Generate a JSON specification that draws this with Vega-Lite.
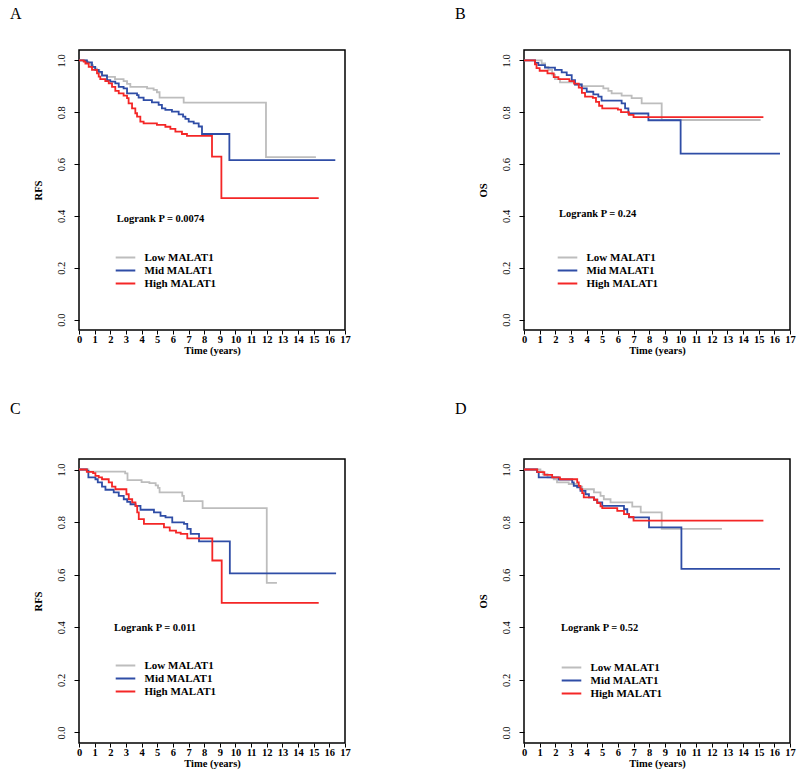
{
  "$schema": "https://vega.github.io/schema/vega-lite/v6.json",
  "background": "white",
  "padding": {"left": 9, "top": 4, "right": 5, "bottom": 5},
  "datasets": {
    "km": [
      {"panel":"A","group":"Low MALAT1","time":0,"surv":1},
      {"panel":"A","group":"Low MALAT1","time":0.45,"surv":0.995},
      {"panel":"A","group":"Low MALAT1","time":0.6,"surv":0.99},
      {"panel":"A","group":"Low MALAT1","time":0.75,"surv":0.982},
      {"panel":"A","group":"Low MALAT1","time":0.9,"surv":0.975},
      {"panel":"A","group":"Low MALAT1","time":1.0,"surv":0.968},
      {"panel":"A","group":"Low MALAT1","time":1.15,"surv":0.962},
      {"panel":"A","group":"Low MALAT1","time":1.3,"surv":0.952},
      {"panel":"A","group":"Low MALAT1","time":1.47,"surv":0.943},
      {"panel":"A","group":"Low MALAT1","time":1.79,"surv":0.936},
      {"panel":"A","group":"Low MALAT1","time":2.3,"surv":0.928},
      {"panel":"A","group":"Low MALAT1","time":2.85,"surv":0.92},
      {"panel":"A","group":"Low MALAT1","time":3.07,"surv":0.909},
      {"panel":"A","group":"Low MALAT1","time":3.28,"surv":0.898},
      {"panel":"A","group":"Low MALAT1","time":4.35,"surv":0.892},
      {"panel":"A","group":"Low MALAT1","time":4.77,"surv":0.886},
      {"panel":"A","group":"Low MALAT1","time":4.98,"surv":0.877},
      {"panel":"A","group":"Low MALAT1","time":5.15,"surv":0.856},
      {"panel":"A","group":"Low MALAT1","time":6.69,"surv":0.837},
      {"panel":"A","group":"Low MALAT1","time":11.95,"surv":0.627},
      {"panel":"A","group":"Low MALAT1","time":15.14,"surv":0.627},
      {"panel":"A","group":"Mid MALAT1","time":0,"surv":1},
      {"panel":"A","group":"Mid MALAT1","time":0.51,"surv":0.992},
      {"panel":"A","group":"Mid MALAT1","time":0.83,"surv":0.975},
      {"panel":"A","group":"Mid MALAT1","time":1.04,"surv":0.963},
      {"panel":"A","group":"Mid MALAT1","time":1.26,"surv":0.956},
      {"panel":"A","group":"Mid MALAT1","time":1.47,"surv":0.941},
      {"panel":"A","group":"Mid MALAT1","time":1.79,"surv":0.924},
      {"panel":"A","group":"Mid MALAT1","time":2.0,"surv":0.918},
      {"panel":"A","group":"Mid MALAT1","time":2.32,"surv":0.911},
      {"panel":"A","group":"Mid MALAT1","time":2.54,"surv":0.898},
      {"panel":"A","group":"Mid MALAT1","time":2.85,"surv":0.892},
      {"panel":"A","group":"Mid MALAT1","time":3.07,"surv":0.873},
      {"panel":"A","group":"Mid MALAT1","time":3.71,"surv":0.866},
      {"panel":"A","group":"Mid MALAT1","time":3.81,"surv":0.856},
      {"panel":"A","group":"Mid MALAT1","time":4.13,"surv":0.847},
      {"panel":"A","group":"Mid MALAT1","time":4.66,"surv":0.838},
      {"panel":"A","group":"Mid MALAT1","time":5.09,"surv":0.828},
      {"panel":"A","group":"Mid MALAT1","time":5.3,"surv":0.815},
      {"panel":"A","group":"Mid MALAT1","time":5.52,"surv":0.809},
      {"panel":"A","group":"Mid MALAT1","time":5.94,"surv":0.802},
      {"panel":"A","group":"Mid MALAT1","time":6.37,"surv":0.792},
      {"panel":"A","group":"Mid MALAT1","time":6.65,"surv":0.783},
      {"panel":"A","group":"Mid MALAT1","time":6.8,"surv":0.774},
      {"panel":"A","group":"Mid MALAT1","time":7.01,"surv":0.764},
      {"panel":"A","group":"Mid MALAT1","time":7.33,"surv":0.757},
      {"panel":"A","group":"Mid MALAT1","time":7.65,"surv":0.745},
      {"panel":"A","group":"Mid MALAT1","time":7.86,"surv":0.716},
      {"panel":"A","group":"Mid MALAT1","time":9.61,"surv":0.615},
      {"panel":"A","group":"Mid MALAT1","time":16.38,"surv":0.615},
      {"panel":"A","group":"High MALAT1","time":0,"surv":1},
      {"panel":"A","group":"High MALAT1","time":0.3,"surv":0.995},
      {"panel":"A","group":"High MALAT1","time":0.41,"surv":0.988},
      {"panel":"A","group":"High MALAT1","time":0.62,"surv":0.975},
      {"panel":"A","group":"High MALAT1","time":0.83,"surv":0.963},
      {"panel":"A","group":"High MALAT1","time":1.15,"surv":0.95},
      {"panel":"A","group":"High MALAT1","time":1.26,"surv":0.937},
      {"panel":"A","group":"High MALAT1","time":1.36,"surv":0.928},
      {"panel":"A","group":"High MALAT1","time":1.68,"surv":0.92},
      {"panel":"A","group":"High MALAT1","time":1.9,"surv":0.911},
      {"panel":"A","group":"High MALAT1","time":2.11,"surv":0.898},
      {"panel":"A","group":"High MALAT1","time":2.32,"surv":0.882},
      {"panel":"A","group":"High MALAT1","time":2.54,"surv":0.873},
      {"panel":"A","group":"High MALAT1","time":2.85,"surv":0.864},
      {"panel":"A","group":"High MALAT1","time":3.07,"surv":0.854},
      {"panel":"A","group":"High MALAT1","time":3.17,"surv":0.834},
      {"panel":"A","group":"High MALAT1","time":3.39,"surv":0.815},
      {"panel":"A","group":"High MALAT1","time":3.6,"surv":0.796},
      {"panel":"A","group":"High MALAT1","time":3.71,"surv":0.783},
      {"panel":"A","group":"High MALAT1","time":3.92,"surv":0.764},
      {"panel":"A","group":"High MALAT1","time":4.13,"surv":0.757},
      {"panel":"A","group":"High MALAT1","time":4.98,"surv":0.751},
      {"panel":"A","group":"High MALAT1","time":5.52,"surv":0.744},
      {"panel":"A","group":"High MALAT1","time":5.84,"surv":0.736},
      {"panel":"A","group":"High MALAT1","time":6.16,"surv":0.725},
      {"panel":"A","group":"High MALAT1","time":6.58,"surv":0.716},
      {"panel":"A","group":"High MALAT1","time":6.9,"surv":0.709},
      {"panel":"A","group":"High MALAT1","time":8.5,"surv":0.629},
      {"panel":"A","group":"High MALAT1","time":9.1,"surv":0.469},
      {"panel":"A","group":"High MALAT1","time":15.32,"surv":0.469},

      {"panel":"B","group":"Low MALAT1","time":0,"surv":1},
      {"panel":"B","group":"Low MALAT1","time":1.13,"surv":0.988},
      {"panel":"B","group":"Low MALAT1","time":1.35,"surv":0.975},
      {"panel":"B","group":"Low MALAT1","time":1.56,"surv":0.963},
      {"panel":"B","group":"Low MALAT1","time":1.8,"surv":0.945},
      {"panel":"B","group":"Low MALAT1","time":1.98,"surv":0.928},
      {"panel":"B","group":"Low MALAT1","time":2.3,"surv":0.915},
      {"panel":"B","group":"Low MALAT1","time":3.26,"surv":0.907},
      {"panel":"B","group":"Low MALAT1","time":3.69,"surv":0.901},
      {"panel":"B","group":"Low MALAT1","time":5.07,"surv":0.892},
      {"panel":"B","group":"Low MALAT1","time":5.39,"surv":0.882},
      {"panel":"B","group":"Low MALAT1","time":5.6,"surv":0.873},
      {"panel":"B","group":"Low MALAT1","time":6.24,"surv":0.864},
      {"panel":"B","group":"Low MALAT1","time":6.88,"surv":0.854},
      {"panel":"B","group":"Low MALAT1","time":7.52,"surv":0.834},
      {"panel":"B","group":"Low MALAT1","time":8.8,"surv":0.77},
      {"panel":"B","group":"Low MALAT1","time":15.12,"surv":0.77},
      {"panel":"B","group":"Mid MALAT1","time":0,"surv":1},
      {"panel":"B","group":"Mid MALAT1","time":0.71,"surv":0.99},
      {"panel":"B","group":"Mid MALAT1","time":0.92,"surv":0.982},
      {"panel":"B","group":"Mid MALAT1","time":1.34,"surv":0.972},
      {"panel":"B","group":"Mid MALAT1","time":1.98,"surv":0.963},
      {"panel":"B","group":"Mid MALAT1","time":2.41,"surv":0.954},
      {"panel":"B","group":"Mid MALAT1","time":2.73,"surv":0.943},
      {"panel":"B","group":"Mid MALAT1","time":3.05,"surv":0.924},
      {"panel":"B","group":"Mid MALAT1","time":3.26,"surv":0.907},
      {"panel":"B","group":"Mid MALAT1","time":3.69,"surv":0.892},
      {"panel":"B","group":"Mid MALAT1","time":4.01,"surv":0.879},
      {"panel":"B","group":"Mid MALAT1","time":4.43,"surv":0.869},
      {"panel":"B","group":"Mid MALAT1","time":4.75,"surv":0.86},
      {"panel":"B","group":"Mid MALAT1","time":4.96,"surv":0.845},
      {"panel":"B","group":"Mid MALAT1","time":6.24,"surv":0.834},
      {"panel":"B","group":"Mid MALAT1","time":6.46,"surv":0.815},
      {"panel":"B","group":"Mid MALAT1","time":6.67,"surv":0.795},
      {"panel":"B","group":"Mid MALAT1","time":7.95,"surv":0.769},
      {"panel":"B","group":"Mid MALAT1","time":10.01,"surv":0.64},
      {"panel":"B","group":"Mid MALAT1","time":16.36,"surv":0.64},
      {"panel":"B","group":"High MALAT1","time":0,"surv":1},
      {"panel":"B","group":"High MALAT1","time":0.7,"surv":0.985},
      {"panel":"B","group":"High MALAT1","time":0.8,"surv":0.97},
      {"panel":"B","group":"High MALAT1","time":1.0,"surv":0.96},
      {"panel":"B","group":"High MALAT1","time":1.5,"surv":0.95},
      {"panel":"B","group":"High MALAT1","time":1.9,"surv":0.935},
      {"panel":"B","group":"High MALAT1","time":2.2,"surv":0.928},
      {"panel":"B","group":"High MALAT1","time":2.9,"surv":0.92},
      {"panel":"B","group":"High MALAT1","time":3.2,"surv":0.91},
      {"panel":"B","group":"High MALAT1","time":3.5,"surv":0.895},
      {"panel":"B","group":"High MALAT1","time":3.7,"surv":0.875},
      {"panel":"B","group":"High MALAT1","time":3.9,"surv":0.86},
      {"panel":"B","group":"High MALAT1","time":4.4,"surv":0.855},
      {"panel":"B","group":"High MALAT1","time":4.6,"surv":0.84},
      {"panel":"B","group":"High MALAT1","time":4.8,"surv":0.825},
      {"panel":"B","group":"High MALAT1","time":5.0,"surv":0.815},
      {"panel":"B","group":"High MALAT1","time":6.0,"surv":0.81},
      {"panel":"B","group":"High MALAT1","time":6.2,"surv":0.8},
      {"panel":"B","group":"High MALAT1","time":6.7,"surv":0.79},
      {"panel":"B","group":"High MALAT1","time":7.0,"surv":0.781},
      {"panel":"B","group":"High MALAT1","time":15.3,"surv":0.781},

      {"panel":"C","group":"Low MALAT1","time":0,"surv":1},
      {"panel":"C","group":"Low MALAT1","time":0.6,"surv":0.992},
      {"panel":"C","group":"Low MALAT1","time":2.95,"surv":0.985},
      {"panel":"C","group":"Low MALAT1","time":3.1,"surv":0.96},
      {"panel":"C","group":"Low MALAT1","time":4.0,"surv":0.952},
      {"panel":"C","group":"Low MALAT1","time":4.5,"surv":0.948},
      {"panel":"C","group":"Low MALAT1","time":4.9,"surv":0.94},
      {"panel":"C","group":"Low MALAT1","time":5.05,"surv":0.93},
      {"panel":"C","group":"Low MALAT1","time":5.15,"surv":0.913},
      {"panel":"C","group":"Low MALAT1","time":6.6,"surv":0.9},
      {"panel":"C","group":"Low MALAT1","time":6.7,"surv":0.88},
      {"panel":"C","group":"Low MALAT1","time":7.9,"surv":0.853},
      {"panel":"C","group":"Low MALAT1","time":12.0,"surv":0.569},
      {"panel":"C","group":"Low MALAT1","time":12.65,"surv":0.569},
      {"panel":"C","group":"Mid MALAT1","time":0,"surv":1},
      {"panel":"C","group":"Mid MALAT1","time":0.5,"surv":0.995},
      {"panel":"C","group":"Mid MALAT1","time":0.6,"surv":0.97},
      {"panel":"C","group":"Mid MALAT1","time":1.05,"surv":0.963},
      {"panel":"C","group":"Mid MALAT1","time":1.2,"surv":0.951},
      {"panel":"C","group":"Mid MALAT1","time":1.47,"surv":0.935},
      {"panel":"C","group":"Mid MALAT1","time":1.69,"surv":0.923},
      {"panel":"C","group":"Mid MALAT1","time":2.22,"surv":0.913},
      {"panel":"C","group":"Mid MALAT1","time":2.54,"surv":0.9},
      {"panel":"C","group":"Mid MALAT1","time":2.86,"surv":0.887},
      {"panel":"C","group":"Mid MALAT1","time":3.08,"surv":0.877},
      {"panel":"C","group":"Mid MALAT1","time":3.29,"surv":0.868},
      {"panel":"C","group":"Mid MALAT1","time":3.61,"surv":0.862},
      {"panel":"C","group":"Mid MALAT1","time":3.93,"surv":0.847},
      {"panel":"C","group":"Mid MALAT1","time":4.79,"surv":0.837},
      {"panel":"C","group":"Mid MALAT1","time":5.21,"surv":0.824},
      {"panel":"C","group":"Mid MALAT1","time":5.53,"surv":0.818},
      {"panel":"C","group":"Mid MALAT1","time":5.96,"surv":0.799},
      {"panel":"C","group":"Mid MALAT1","time":6.71,"surv":0.793},
      {"panel":"C","group":"Mid MALAT1","time":6.92,"surv":0.774},
      {"panel":"C","group":"Mid MALAT1","time":7.14,"surv":0.755},
      {"panel":"C","group":"Mid MALAT1","time":7.67,"surv":0.727},
      {"panel":"C","group":"Mid MALAT1","time":9.64,"surv":0.605},
      {"panel":"C","group":"Mid MALAT1","time":16.43,"surv":0.605},
      {"panel":"C","group":"High MALAT1","time":0,"surv":1},
      {"panel":"C","group":"High MALAT1","time":0.5,"surv":0.991},
      {"panel":"C","group":"High MALAT1","time":0.9,"surv":0.986},
      {"panel":"C","group":"High MALAT1","time":1.05,"surv":0.976},
      {"panel":"C","group":"High MALAT1","time":1.26,"surv":0.97},
      {"panel":"C","group":"High MALAT1","time":1.47,"surv":0.963},
      {"panel":"C","group":"High MALAT1","time":1.9,"surv":0.951},
      {"panel":"C","group":"High MALAT1","time":2.11,"surv":0.935},
      {"panel":"C","group":"High MALAT1","time":2.33,"surv":0.925},
      {"panel":"C","group":"High MALAT1","time":3.03,"surv":0.906},
      {"panel":"C","group":"High MALAT1","time":3.18,"surv":0.887},
      {"panel":"C","group":"High MALAT1","time":3.4,"surv":0.875},
      {"panel":"C","group":"High MALAT1","time":3.61,"surv":0.862},
      {"panel":"C","group":"High MALAT1","time":3.72,"surv":0.837},
      {"panel":"C","group":"High MALAT1","time":3.82,"surv":0.811},
      {"panel":"C","group":"High MALAT1","time":4.15,"surv":0.793},
      {"panel":"C","group":"High MALAT1","time":5.43,"surv":0.78},
      {"panel":"C","group":"High MALAT1","time":5.8,"surv":0.768},
      {"panel":"C","group":"High MALAT1","time":6.2,"surv":0.76},
      {"panel":"C","group":"High MALAT1","time":6.5,"surv":0.755},
      {"panel":"C","group":"High MALAT1","time":6.92,"surv":0.738},
      {"panel":"C","group":"High MALAT1","time":8.52,"surv":0.654},
      {"panel":"C","group":"High MALAT1","time":9.12,"surv":0.493},
      {"panel":"C","group":"High MALAT1","time":15.32,"surv":0.493},

      {"panel":"D","group":"Low MALAT1","time":0,"surv":1},
      {"panel":"D","group":"Low MALAT1","time":1.05,"surv":0.993},
      {"panel":"D","group":"Low MALAT1","time":1.2,"surv":0.982},
      {"panel":"D","group":"Low MALAT1","time":1.5,"surv":0.97},
      {"panel":"D","group":"Low MALAT1","time":1.9,"surv":0.963},
      {"panel":"D","group":"Low MALAT1","time":2.11,"surv":0.951},
      {"panel":"D","group":"Low MALAT1","time":2.86,"surv":0.945},
      {"panel":"D","group":"Low MALAT1","time":3.4,"surv":0.935},
      {"panel":"D","group":"Low MALAT1","time":3.72,"surv":0.925},
      {"panel":"D","group":"Low MALAT1","time":4.47,"surv":0.913},
      {"panel":"D","group":"Low MALAT1","time":4.89,"surv":0.9},
      {"panel":"D","group":"Low MALAT1","time":5.1,"surv":0.887},
      {"panel":"D","group":"Low MALAT1","time":5.53,"surv":0.875},
      {"panel":"D","group":"Low MALAT1","time":6.92,"surv":0.859},
      {"panel":"D","group":"Low MALAT1","time":7.46,"surv":0.837},
      {"panel":"D","group":"Low MALAT1","time":8.8,"surv":0.774},
      {"panel":"D","group":"Low MALAT1","time":12.65,"surv":0.774},
      {"panel":"D","group":"Mid MALAT1","time":0,"surv":1},
      {"panel":"D","group":"Mid MALAT1","time":0.83,"surv":0.99},
      {"panel":"D","group":"Mid MALAT1","time":0.94,"surv":0.97},
      {"panel":"D","group":"Mid MALAT1","time":2.22,"surv":0.962},
      {"panel":"D","group":"Mid MALAT1","time":3.08,"surv":0.951},
      {"panel":"D","group":"Mid MALAT1","time":3.18,"surv":0.938},
      {"panel":"D","group":"Mid MALAT1","time":3.4,"surv":0.932},
      {"panel":"D","group":"Mid MALAT1","time":3.61,"surv":0.919},
      {"panel":"D","group":"Mid MALAT1","time":3.93,"surv":0.906},
      {"panel":"D","group":"Mid MALAT1","time":4.15,"surv":0.894},
      {"panel":"D","group":"Mid MALAT1","time":4.47,"surv":0.885},
      {"panel":"D","group":"Mid MALAT1","time":4.68,"surv":0.875},
      {"panel":"D","group":"Mid MALAT1","time":5.0,"surv":0.862},
      {"panel":"D","group":"Mid MALAT1","time":6.39,"surv":0.849},
      {"panel":"D","group":"Mid MALAT1","time":6.6,"surv":0.83},
      {"panel":"D","group":"Mid MALAT1","time":6.71,"surv":0.818},
      {"panel":"D","group":"Mid MALAT1","time":7.99,"surv":0.78},
      {"panel":"D","group":"Mid MALAT1","time":10.06,"surv":0.622},
      {"panel":"D","group":"Mid MALAT1","time":16.36,"surv":0.622},
      {"panel":"D","group":"High MALAT1","time":0,"surv":1},
      {"panel":"D","group":"High MALAT1","time":0.85,"surv":0.99},
      {"panel":"D","group":"High MALAT1","time":1.3,"surv":0.98},
      {"panel":"D","group":"High MALAT1","time":1.8,"surv":0.97},
      {"panel":"D","group":"High MALAT1","time":2.3,"surv":0.963},
      {"panel":"D","group":"High MALAT1","time":3.4,"surv":0.951},
      {"panel":"D","group":"High MALAT1","time":3.5,"surv":0.938},
      {"panel":"D","group":"High MALAT1","time":3.61,"surv":0.925},
      {"panel":"D","group":"High MALAT1","time":3.72,"surv":0.91},
      {"panel":"D","group":"High MALAT1","time":3.82,"surv":0.894},
      {"panel":"D","group":"High MALAT1","time":4.47,"surv":0.885},
      {"panel":"D","group":"High MALAT1","time":4.68,"surv":0.872},
      {"panel":"D","group":"High MALAT1","time":4.89,"surv":0.86},
      {"panel":"D","group":"High MALAT1","time":5.0,"surv":0.853},
      {"panel":"D","group":"High MALAT1","time":5.96,"surv":0.843},
      {"panel":"D","group":"High MALAT1","time":6.39,"surv":0.83},
      {"panel":"D","group":"High MALAT1","time":6.71,"surv":0.82},
      {"panel":"D","group":"High MALAT1","time":7.0,"surv":0.806},
      {"panel":"D","group":"High MALAT1","time":15.3,"surv":0.806}
    ],
    "stats": [
      {"panel": "A", "label": "Logrank P = 0.0074"},
      {"panel": "B", "label": "Logrank P = 0.24"},
      {"panel": "C", "label": "Logrank P = 0.011"},
      {"panel": "D", "label": "Logrank P = 0.52"}
    ]
  },
  "columns": 2,
  "bounds": "flush",
  "spacing": {"row": 129, "column": 179},
  "resolve": {"scale": {"color": "independent", "x": "independent", "y": "independent"}},
  "concat": [
    {
      "width": 266, "height": 280,
      "title": {"text": "A", "offset": 28.5},
      "layer": [
        {
          "data": {"name": "km"},
          "transform": [{"filter": "datum.panel === 'A'"}],
          "mark": {"type": "line", "interpolate": "step-after", "strokeWidth": 1.8},
          "encoding": {
            "x": {"field": "time", "type": "quantitative", "title": "Time (years)", "scale": {"domain": [0, 17], "nice": false, "zero": false}, "axis": {"values": [0,1,2,3,4,5,6,7,8,9,10,11,12,13,14,15,16,17], "format": "d", "labelOverlap": false, "labelFlush": false}},
            "y": {"field": "surv", "type": "quantitative", "title": "RFS", "scale": {"domain": [-0.04, 1.04], "nice": false, "zero": false}, "axis": {"values": [0, 0.2, 0.4, 0.6, 0.8, 1.0], "format": ".1f", "labelOverlap": false}},
            "color": {"field": "group", "type": "nominal", "sort": null, "scale": {"domain": ["Low MALAT1", "Mid MALAT1", "High MALAT1"], "range": ["#bdbdbd", "#2f4da6", "#f42626"]}, "legend": {"title": null, "orient": "none", "legendX": 38.5, "legendY": 199.5}}
          }
        },
        {
          "data": {"name": "stats"},
          "transform": [{"filter": "datum.panel === 'A'"}],
          "mark": {"type": "text", "align": "left", "baseline": "middle", "font": "Liberation Serif", "fontWeight": "bold", "fontSize": 10.5, "fill": "black"},
          "encoding": {
            "x": {"datum": 2.41, "type": "quantitative", "title": "Time (years)", "axis": {"values": [0,1,2,3,4,5,6,7,8,9,10,11,12,13,14,15,16,17], "format": "d", "labelOverlap": false, "labelFlush": false}},
            "y": {"datum": 0.388, "type": "quantitative", "title": "RFS", "axis": {"values": [0, 0.2, 0.4, 0.6, 0.8, 1.0], "format": ".1f", "labelOverlap": false}},
            "text": {"field": "label"}
          }
        }
      ]
    },
    {
      "width": 266, "height": 280,
      "title": {"text": "B", "offset": 28.5},
      "layer": [
        {
          "data": {"name": "km"},
          "transform": [{"filter": "datum.panel === 'B'"}],
          "mark": {"type": "line", "interpolate": "step-after", "strokeWidth": 1.8},
          "encoding": {
            "x": {"field": "time", "type": "quantitative", "title": "Time (years)", "scale": {"domain": [0, 17], "nice": false, "zero": false}, "axis": {"values": [0,1,2,3,4,5,6,7,8,9,10,11,12,13,14,15,16,17], "format": "d", "labelOverlap": false, "labelFlush": false}},
            "y": {"field": "surv", "type": "quantitative", "title": "OS", "scale": {"domain": [-0.04, 1.04], "nice": false, "zero": false}, "axis": {"values": [0, 0.2, 0.4, 0.6, 0.8, 1.0], "format": ".1f", "labelOverlap": false}},
            "color": {"field": "group", "type": "nominal", "sort": null, "scale": {"domain": ["Low MALAT1", "Mid MALAT1", "High MALAT1"], "range": ["#bdbdbd", "#2f4da6", "#f42626"]}, "legend": {"title": null, "orient": "none", "legendX": 35.5, "legendY": 199.5}}
          }
        },
        {
          "data": {"name": "stats"},
          "transform": [{"filter": "datum.panel === 'B'"}],
          "mark": {"type": "text", "align": "left", "baseline": "middle", "font": "Liberation Serif", "fontWeight": "bold", "fontSize": 10.5, "fill": "black"},
          "encoding": {
            "x": {"datum": 2.24, "type": "quantitative", "title": "Time (years)", "axis": {"values": [0,1,2,3,4,5,6,7,8,9,10,11,12,13,14,15,16,17], "format": "d", "labelOverlap": false, "labelFlush": false}},
            "y": {"datum": 0.409, "type": "quantitative", "title": "OS", "axis": {"values": [0, 0.2, 0.4, 0.6, 0.8, 1.0], "format": ".1f", "labelOverlap": false}},
            "text": {"field": "label"}
          }
        }
      ]
    },
    {
      "width": 266, "height": 284,
      "title": {"text": "C", "offset": 42},
      "layer": [
        {
          "data": {"name": "km"},
          "transform": [{"filter": "datum.panel === 'C'"}],
          "mark": {"type": "line", "interpolate": "step-after", "strokeWidth": 1.8},
          "encoding": {
            "x": {"field": "time", "type": "quantitative", "title": "Time (years)", "scale": {"domain": [0, 17], "nice": false, "zero": false}, "axis": {"values": [0,1,2,3,4,5,6,7,8,9,10,11,12,13,14,15,16,17], "format": "d", "labelOverlap": false, "labelFlush": false}},
            "y": {"field": "surv", "type": "quantitative", "title": "RFS", "scale": {"domain": [-0.04, 1.04], "nice": false, "zero": false}, "axis": {"values": [0, 0.2, 0.4, 0.6, 0.8, 1.0], "format": ".1f", "labelOverlap": false}},
            "color": {"field": "group", "type": "nominal", "sort": null, "scale": {"domain": ["Low MALAT1", "Mid MALAT1", "High MALAT1"], "range": ["#bdbdbd", "#2f4da6", "#f42626"]}, "legend": {"title": null, "orient": "none", "legendX": 38.5, "legendY": 198.5}}
          }
        },
        {
          "data": {"name": "stats"},
          "transform": [{"filter": "datum.panel === 'C'"}],
          "mark": {"type": "text", "align": "left", "baseline": "middle", "font": "Liberation Serif", "fontWeight": "bold", "fontSize": 10.5, "fill": "black"},
          "encoding": {
            "x": {"datum": 2.24, "type": "quantitative", "title": "Time (years)", "axis": {"values": [0,1,2,3,4,5,6,7,8,9,10,11,12,13,14,15,16,17], "format": "d", "labelOverlap": false, "labelFlush": false}},
            "y": {"datum": 0.398, "type": "quantitative", "title": "RFS", "axis": {"values": [0, 0.2, 0.4, 0.6, 0.8, 1.0], "format": ".1f", "labelOverlap": false}},
            "text": {"field": "label"}
          }
        }
      ]
    },
    {
      "width": 266, "height": 284,
      "title": {"text": "D", "offset": 42},
      "layer": [
        {
          "data": {"name": "km"},
          "transform": [{"filter": "datum.panel === 'D'"}],
          "mark": {"type": "line", "interpolate": "step-after", "strokeWidth": 1.8},
          "encoding": {
            "x": {"field": "time", "type": "quantitative", "title": "Time (years)", "scale": {"domain": [0, 17], "nice": false, "zero": false}, "axis": {"values": [0,1,2,3,4,5,6,7,8,9,10,11,12,13,14,15,16,17], "format": "d", "labelOverlap": false, "labelFlush": false}},
            "y": {"field": "surv", "type": "quantitative", "title": "OS", "scale": {"domain": [-0.04, 1.04], "nice": false, "zero": false}, "axis": {"values": [0, 0.2, 0.4, 0.6, 0.8, 1.0], "format": ".1f", "labelOverlap": false}},
            "color": {"field": "group", "type": "nominal", "sort": null, "scale": {"domain": ["Low MALAT1", "Mid MALAT1", "High MALAT1"], "range": ["#bdbdbd", "#2f4da6", "#f42626"]}, "legend": {"title": null, "orient": "none", "legendX": 39.5, "legendY": 200.5}}
          }
        },
        {
          "data": {"name": "stats"},
          "transform": [{"filter": "datum.panel === 'D'"}],
          "mark": {"type": "text", "align": "left", "baseline": "middle", "font": "Liberation Serif", "fontWeight": "bold", "fontSize": 10.5, "fill": "black"},
          "encoding": {
            "x": {"datum": 2.37, "type": "quantitative", "title": "Time (years)", "axis": {"values": [0,1,2,3,4,5,6,7,8,9,10,11,12,13,14,15,16,17], "format": "d", "labelOverlap": false, "labelFlush": false}},
            "y": {"datum": 0.397, "type": "quantitative", "title": "OS", "axis": {"values": [0, 0.2, 0.4, 0.6, 0.8, 1.0], "format": ".1f", "labelOverlap": false}},
            "text": {"field": "label"}
          }
        }
      ]
    }
  ],
  "config": {
    "font": "Liberation Serif",
    "view": {"stroke": "black", "strokeWidth": 1.5},
    "title": {"anchor": "start", "frame": "group", "dx": -69, "baseline": "alphabetic", "font": "Liberation Serif", "fontSize": 16, "fontWeight": "normal", "color": "black"},
    "axis": {"grid": false, "domain": false, "tickColor": "black", "tickWidth": 1, "labelColor": "black", "titleColor": "black", "labelFont": "Liberation Serif", "titleFont": "Liberation Serif", "labelFontSize": 10.5, "titleFontSize": 10.5, "titleFontWeight": "bold"},
    "axisX": {"labelFontWeight": "bold", "labelFontSize": 10.5, "tickSize": 4, "labelPadding": 0, "titlePadding": 1, "labelFlush": false, "labelOverlap": false},
    "axisY": {"labelFontWeight": "normal", "labelAngle": 270, "labelAlign": "center", "labelBaseline": "bottom", "tickSize": 5, "labelPadding": 8, "titlePadding": 13},
    "legend": {"symbolType": "M-1.4,0H1.4", "symbolStrokeWidth": 2, "symbolSize": 196, "labelFont": "Liberation Serif", "labelFontSize": 11, "labelFontWeight": "bold", "labelColor": "black", "labelOffset": 11, "rowPadding": 0, "padding": 0}
  }
}
